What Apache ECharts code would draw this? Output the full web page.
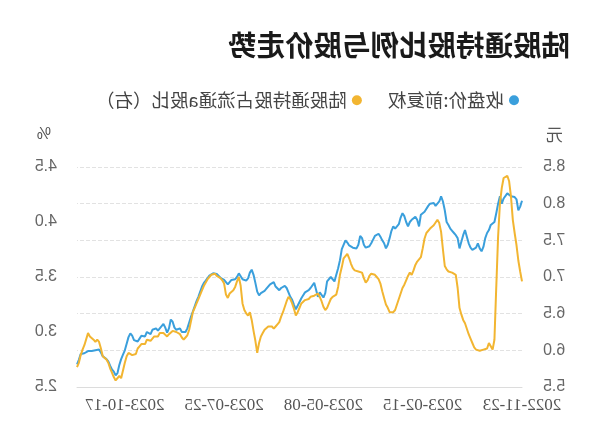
<!DOCTYPE html>
<html>
<head>
<meta charset="utf-8">
<script src="https://cdn.jsdelivr.net/npm/echarts@6/dist/echarts.min.js"></script>
<style>
html,body{margin:0;padding:0;background:#fff;}
#chart{width:600px;height:446px;transform:scaleX(-1);transform-origin:50% 50%;}
</style>
</head>
<body>
<div id="chart"></div>
<script>
// Trading days (month -> day numbers)
const tradingDays = [
  ["2022-11",[23,24,25,28,29,30]],
  ["2022-12",[1,2,5,6,7,8,9,12,13,14,15,16,19,20,21,22,23,26,27,28,29,30]],
  ["2023-01",[3,4,5,6,9,10,11,12,13,16,17,18,19,20,30,31]],
  ["2023-02",[1,2,3,6,7,8,9,10,13,14,15,16,17,20,21,22,23,24,27,28]],
  ["2023-03",[1,2,3,6,7,8,9,10,13,14,15,16,17,20,21,22,23,24,27,28,29,30,31]],
  ["2023-04",[3,4,6,7,10,11,12,13,14,17,18,19,20,21,24,25,26,27,28]],
  ["2023-05",[4,5,8,9,10,11,12,15,16,17,18,19,22,23,24,25,26,29,30,31]],
  ["2023-06",[1,2,5,6,7,8,9,12,13,14,15,16,19,20,21,26,27,28,29,30]],
  ["2023-07",[3,4,5,6,7,10,11,12,13,14,17,18,19,20,21,24,25,26,27,28,31]],
  ["2023-08",[1,2,3,4,7,8,9,10,11,14,15,16,17,18,21,22,23,24,25,28,29,30,31]],
  ["2023-09",[1,4,5,6,7,8,11,12,13,14,15,18,19,20,21,22,25,26,27,28]],
  ["2023-10",[9,10,11,12,13,16,17,18,19,20,23,24,25,26,27,30,31]],
  ["2023-11",[1,2,3,6,7,8,9,10,13,14,15,16,17,20,21,22]]
];

const seriesNames = ["收盘价:前复权", "陆股通持股占流通a股比（右）"];

// 收盘价:前复权 (元)
const closePrice = [
  8.04,7.96,7.91,8.06,8.09,8.10,8.10,8.12,8.14,8.16,
  8.07,8.00,8.10,8.00,7.87,7.75,7.73,7.71,7.64,7.60,
  7.53,7.41,7.35,7.39,7.46,7.40,7.40,7.37,7.40,7.46,
  7.55,7.64,7.57,7.48,7.39,7.53,7.57,7.60,7.63,7.66,
  7.71,7.75,7.91,8.03,8.10,8.03,8.00,7.97,8.01,8.01,
  8.00,7.97,7.96,7.89,7.90,7.85,7.69,7.78,7.82,7.80,
  7.78,
  7.75,7.69,7.75,7.83,7.87,7.81,7.72,7.69,7.66,7.69,
  7.63,7.53,7.44,7.39,7.46,7.50,7.55,7.59,7.59,7.56,
  7.51,7.46,7.42,7.40,7.40,7.44,7.53,7.56,7.44,7.39,
  7.40,7.40,7.41,7.43,7.47,7.50,7.48,7.38,7.23,7.12,
  7.03,6.94,6.95,7.00,7.01,6.94,6.78,6.72,6.74,6.79,
  6.73,6.73,6.92,6.90,6.85,6.82,6.80,6.79,6.75,6.71,
  6.66,
  6.64,6.56,6.62,6.69,6.73,6.79,6.85,6.88,6.90,6.85,
  6.82,6.80,6.87,6.93,6.92,6.90,6.88,6.84,6.81,6.79,
  6.78,6.75,6.80,6.92,7.03,7.10,7.06,6.98,6.95,6.95,
  6.97,7.01,7.05,7.00,6.97,6.96,6.96,6.94,6.90,6.88,
  6.96,6.98,6.99,7.01,7.04,7.06,7.05,7.04,7.02,7.00,
  6.95,6.92,6.87,6.80,6.73,6.67,6.60,6.53,6.46,6.38,
  6.30,6.25,
  6.23,6.25,6.30,6.32,6.28,6.31,6.39,6.42,6.30,6.24,
  6.31,6.36,6.35,6.30,6.27,6.30,6.32,6.28,6.22,6.21,
  6.25,6.19,6.20,6.20,6.16,6.12,6.10,6.14,6.20,6.23,
  6.18,6.09,6.00,5.94,5.88,5.80,5.69,5.66,5.71,5.74,
  5.79,5.85,5.88,5.89,5.92,5.97,6.01,6.03,6.00,5.98,
  5.99,6.00,5.99,5.97,5.96,5.95,5.95,5.87,5.81
];

// 陆股通持股占流通a股比 (%)
const holdRatio = [
  3.46,3.55,3.65,3.79,3.90,4.02,4.23,4.37,4.42,4.43,
  4.40,4.31,4.17,3.87,3.41,2.93,2.84,2.84,2.90,2.85,
  2.85,2.84,2.84,2.83,2.83,2.84,2.86,2.90,2.94,2.98,
  3.03,3.08,3.11,3.16,3.22,3.40,3.52,3.53,3.54,3.55,
  3.55,3.57,3.60,3.75,3.91,3.99,4.02,4.01,3.97,3.96,
  3.94,3.93,3.90,3.85,3.76,3.68,3.66,3.64,3.61,3.56,
  3.52,
  3.54,3.51,3.47,3.43,3.40,3.35,3.30,3.25,3.20,3.18,
  3.17,3.18,3.22,3.25,3.31,3.37,3.44,3.48,3.50,3.52,
  3.52,3.53,3.51,3.47,3.45,3.49,3.54,3.55,3.55,3.56,
  3.56,3.58,3.62,3.67,3.71,3.72,3.67,3.59,3.52,3.41,
  3.34,3.34,3.32,3.30,3.26,3.22,3.20,3.23,3.28,3.32,
  3.35,3.35,3.33,3.34,3.32,3.30,3.29,3.29,3.28,3.26,
  3.22,
  3.18,3.15,3.21,3.26,3.30,3.32,3.28,3.23,3.18,3.14,
  3.09,3.07,3.05,3.03,3.05,3.06,3.05,3.04,3.02,2.99,
  2.96,2.90,2.81,2.92,3.01,3.11,3.18,3.15,3.17,3.20,
  3.26,3.42,3.50,3.46,3.41,3.38,3.37,3.35,3.31,3.34,
  3.44,3.47,3.49,3.50,3.51,3.53,3.53,3.52,3.50,3.48,
  3.45,3.42,3.38,3.34,3.30,3.26,3.22,3.18,3.10,3.02,
  2.97,2.95,
  2.93,2.95,2.98,2.99,3.00,2.99,3.01,3.01,2.98,2.96,
  2.97,2.99,2.99,2.99,2.96,2.95,2.96,2.95,2.92,2.91,
  2.93,2.89,2.90,2.89,2.87,2.85,2.80,2.81,2.79,2.79,
  2.81,2.78,2.72,2.65,2.58,2.60,2.59,2.56,2.59,2.63,
  2.67,2.72,2.75,2.76,2.78,2.85,2.91,2.93,2.91,2.93,
  2.94,2.96,2.99,2.99,2.88,2.84,2.79,2.72,2.68
];

const categories = [];
tradingDays.forEach(function (m) {
  m[1].forEach(function (d) { categories.push(m[0] + "-" + (d < 10 ? "0" + d : "" + d)); });
});

const chart = echarts.init(document.getElementById('chart'), null, {renderer: 'canvas'});
const fmt = function (v) { return v.toFixed(1); };
chart.setOption({
  animation: false,
  backgroundColor: '#fff',
  title: {
    text: '陆股通持股比例与股价走势',
    left: 25, top: 26,
    textStyle: {fontSize: 28.5, fontWeight: 'bold', color: '#1a1a1a', fontFamily: 'Noto Sans CJK SC'}
  },
  legend: {
    data: seriesNames,
    left: 76, top: 86,
    icon: 'circle', itemWidth: 10, itemHeight: 10, itemGap: 26,
    textStyle: {fontSize: 18.5, color: '#444', fontFamily: 'Noto Sans CJK SC'}
  },
  grid: {left: 78, right: 77, top: 167, bottom: 59},
  xAxis: {
    type: 'category',
    data: categories,
    boundaryGap: false,
    axisLine: {lineStyle: {color: '#dcdcdc'}},
    axisTick: {show: false},
    axisLabel: {interval: 53, color: '#555', fontSize: 17, fontFamily: '"Liberation Serif", "DejaVu Serif", serif', margin: 10}
  },
  yAxis: [
    {
      type: 'value', name: '元', position: 'left',
      min: 5.5, max: 8.5, interval: 0.5,
      nameGap: 24,
      nameTextStyle: {fontSize: 17, color: '#555', align: 'right', padding: [0, 24, 0, 0], fontFamily: 'Noto Sans CJK SC'},
      axisLine: {show: false}, axisTick: {show: false},
      axisLabel: {formatter: fmt, color: '#666', fontSize: 16, margin: 21},
      splitLine: {lineStyle: {type: 'dashed', color: '#e2e2e2'}}
    },
    {
      type: 'value', name: '%', position: 'right',
      min: 2.5, max: 4.5, interval: 0.5,
      nameGap: 24,
      nameTextStyle: {fontSize: 16, color: '#555', align: 'left', padding: [0, 0, 0, 26]},
      axisLine: {show: false}, axisTick: {show: false},
      axisLabel: {formatter: fmt, color: '#666', fontSize: 16, margin: 20},
      splitLine: {show: false}
    }
  ],
  series: [
    {
      name: seriesNames[0], type: 'line', yAxisIndex: 0,
      data: closePrice, showSymbol: false, symbol: 'none',
      itemStyle: {color: '#3a9fdc'},
      lineStyle: {color: '#3a9fdc', width: 2}
    },
    {
      name: seriesNames[1], type: 'line', yAxisIndex: 1,
      data: holdRatio, showSymbol: false, symbol: 'none',
      itemStyle: {color: '#f2b531'},
      lineStyle: {color: '#f2b531', width: 2}
    }
  ]
});
</script>
</body>
</html>
